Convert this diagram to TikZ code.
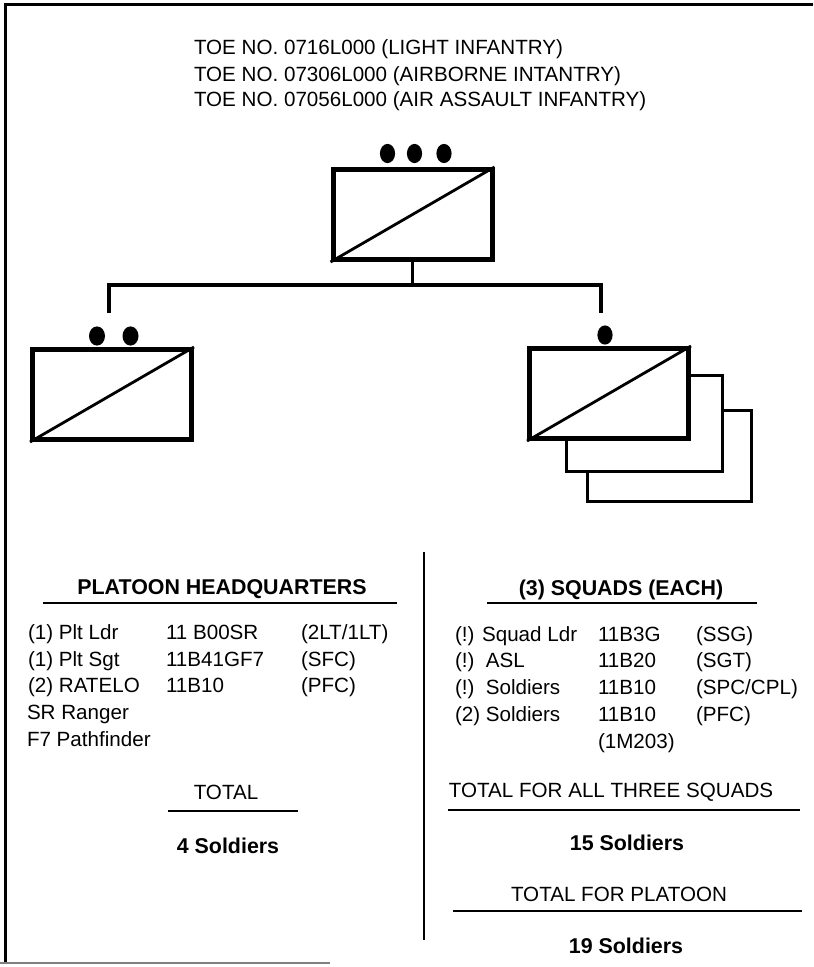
\documentclass[tikz,border=0pt]{standalone}
\usepackage{fontspec}
\setmainfont{Liberation Sans}
\begin{document}
\begin{tikzpicture}[x=0.5pt, y=-0.5pt, line width=1pt,
  unit/.style={draw, line width=2.5pt, minimum width=79.5pt, minimum height=45pt, inner sep=0pt},
  conn/.style={line width=1.8pt},
  txt/.style={font=\fontsize{10.3}{12}\selectfont, inner sep=0pt, anchor=base west},
  ctxt/.style={txt, anchor=base},
  btxt/.style={ctxt, font=\fontsize{10.7}{12}\selectfont\bfseries}]
  \useasboundingbox (0,0) rectangle (813,967);
  % 외곽선
  \draw[line width=1.5pt] (5,962) -- (5,5) -- (813,5);
  \draw[gray, line width=0.7pt] (0,963) -- (330,963);
  % 제목
  \node[txt] (toe1) at (193,55) {TOE NO. 0716L000 (LIGHT INFANTRY)};
  \node[txt] (toe2) at (193,82) {TOE NO. 07306L000 (AIRBORNE INTANTRY)};
  \node[txt] (toe3) at (193,107) {TOE NO. 07056L000 (AIR ASSAULT INFANTRY)};
  % 부대 기호
  \node[unit] (plt) at (412.5,214.5) {};
  \node[unit] (hq) at (112,394.5) {};
  \node[unit] (sq) at (609,393.5) {};
  \foreach \u in {plt,hq,sq} \draw[line width=1.4pt] (\u.south west) -- (\u.north east);
  % 분대 3개 겹침
  \draw[line width=1.5pt] (sq.east |- 0,376) -- (722,376) -- (722,471) -- (566,471) -- (sq.south -| 566,0);
  \draw[line width=1.5pt] (722,410) -- (751,410) -- (751,501) -- (587,501) -- (587,471);
  % 규모 표시
  \fill (387.5,153.5) ellipse (3.8pt and 4.8pt) (414.5,153.5) ellipse (3.8pt and 4.8pt) (444,153.5) ellipse (3.8pt and 4.8pt);
  \fill (97,336) ellipse (4pt and 4.8pt) (130.5,336) ellipse (4pt and 4.8pt);
  \fill (605,335) ellipse (3.8pt and 4.8pt);
  % 연결선
  \coordinate (bar) at (plt.south |- 0,285);
  \coordinate (hqdrop) at (109,313);
  \coordinate (sqdrop) at (601,313);
  \draw[conn] (plt.south) -- (bar);
  \draw[conn] (hqdrop) |- (bar) -| (sqdrop);
  % 구분선
  \draw (424,552) -- (424,940);
  % 소대 본부
  \node[btxt] (hqtitle) at (222,594) {PLATOON HEADQUARTERS};
  \draw[line width=1.2pt] (43,603) -- (397,603);
  \node[txt] (hqa1) at (27,639) {(1) Plt Ldr};
  \node[txt] (hqb1) at (165,639) {11 B00SR};
  \node[txt] (hqc1) at (300,639) {(2LT/1LT)};
  \node[txt] (hqa2) at (27,666) {(1) Plt Sgt};
  \node[txt] (hqb2) at (165,666) {11B41GF7};
  \node[txt] (hqc2) at (300,666) {(SFC)};
  \node[txt] (hqa3) at (27,692) {(2) RATELO};
  \node[txt] (hqb3) at (165,692) {11B10};
  \node[txt] (hqc3) at (300,692) {(PFC)};
  \node[txt] (hqa4) at (26,719) {SR Ranger};
  \node[txt] (hqa5) at (26,746) {F7 Pathfinder};
  \node[ctxt] (hqtot) at (226,799) {TOTAL};
  \draw[line width=1.2pt] (168,811) -- (298,811);
  \node[btxt] (hqsum) at (228,853) {4 Soldiers};
  % 분대
  \node[btxt] (sqtitle) at (621,595) {(3) SQUADS (EACH)};
  \draw[line width=1.2pt] (487,603) -- (757,603);
  \node[txt] (sqa1) at (454,641) {(!) Squad Ldr};
  \node[txt] (sqb1) at (597,641) {11B3G};
  \node[txt] (sqc1) at (695,641) {(SSG)};
  \node[txt] (sqa2) at (454,667) {(!)\ \ ASL};
  \node[txt] (sqb2) at (597,667) {11B20};
  \node[txt] (sqc2) at (695,667) {(SGT)};
  \node[txt] (sqa3) at (454,694) {(!)\ \ Soldiers};
  \node[txt] (sqb3) at (597,694) {11B10};
  \node[txt] (sqc3) at (695,694) {(SPC/CPL)};
  \node[txt] (sqa4) at (454,721) {(2) Soldiers};
  \node[txt] (sqb4) at (597,721) {11B10};
  \node[txt] (sqc4) at (695,721) {(PFC)};
  \node[txt] (sqb5) at (597,748) {(1M203)};
  \node[ctxt] (sqtot) at (611,797) {TOTAL FOR ALL THREE SQUADS};
  \draw[line width=1.2pt] (448,810) -- (800,810);
  \node[btxt] (sqsum) at (627,850) {15 Soldiers};
  \node[ctxt] (plttot) at (619,901) {TOTAL FOR PLATOON};
  \draw[line width=1.2pt] (453,911) -- (802,911);
  \node[btxt] (pltsum) at (626,953) {19 Soldiers};
\end{tikzpicture}
\end{document}
